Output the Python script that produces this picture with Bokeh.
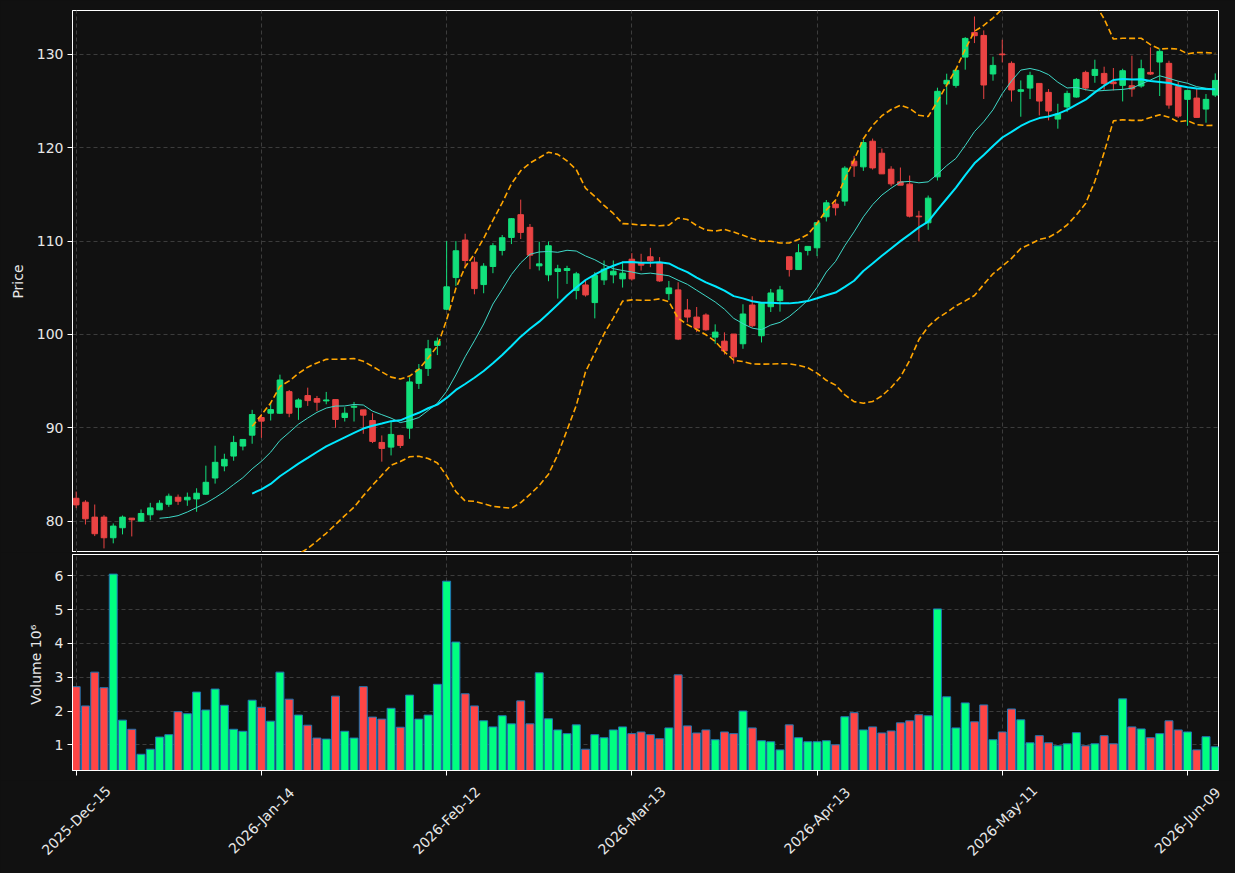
import numpy as np
import pandas as pd
from bokeh.plotting import figure
from bokeh.layouts import column
from bokeh.models import FixedTicker, ColumnDataSource, Range1d
from bokeh.core.properties import value
from bokeh.embed import file_html
from bokeh.resources import INLINE

# ---------------- data ----------------
opens = [82.45, 82.03, 80.43, 80.43, 78.22, 79.29, 80.32, 80.00, 80.68, 81.21,
         81.81, 82.56, 82.28, 82.38, 82.88, 84.62, 85.91, 86.97, 88.04, 89.21,
         91.10, 91.56, 91.56, 93.87, 92.20, 93.45, 93.13, 92.88, 93.02, 91.10,
         92.20, 91.92, 90.78, 88.43, 87.93, 89.18, 89.96, 94.76, 96.36, 98.82,
         102.70, 106.09, 110.11, 107.74, 105.34, 107.28, 109.00, 110.39, 112.83, 111.47,
         107.35, 106.38, 106.74, 106.85, 104.70, 105.30, 103.41, 105.84, 106.38, 105.95,
         108.06, 107.63, 108.32, 107.71, 104.37, 104.77, 102.62, 101.86, 102.08, 99.71,
         99.28, 100.04, 99.00, 103.15, 99.86, 102.97, 103.62, 108.32, 106.95, 109.00,
         109.28, 112.60, 113.96, 114.28, 118.56, 117.95, 120.70, 119.41, 117.70, 116.35,
         116.10, 112.67, 111.96, 116.88, 126.83, 126.68, 129.71, 132.35, 132.03, 127.90,
         130.04, 129.04, 126.04, 126.39, 126.89, 125.93, 123.07, 124.36, 125.43, 128.07,
         127.75, 127.96, 127.04, 126.68, 126.64, 126.61, 128.07, 129.18, 129.04, 126.57,
         125.18, 125.32, 124.14, 125.64]
highs = [83.17, 82.24, 81.78, 80.64, 79.75, 80.60, 80.32, 81.25, 81.96, 82.24,
         82.95, 82.85, 83.06, 83.52, 85.94, 88.08, 87.22, 89.14, 88.75, 91.92,
         91.49, 92.74, 95.69, 94.05, 93.16, 94.30, 93.41, 93.84, 93.02, 92.20,
         92.77, 91.92, 91.56, 89.18, 90.78, 89.25, 95.40, 96.83, 99.42, 99.67,
         110.00, 110.00, 110.79, 108.28, 107.63, 109.78, 110.65, 112.47, 114.44, 111.83,
         109.93, 109.96, 107.46, 107.35, 106.70, 105.84, 106.67, 107.92, 107.92, 107.81,
         108.71, 108.64, 109.28, 108.28, 105.73, 105.59, 103.80, 102.94, 102.26, 101.08,
         100.22, 100.04, 103.23, 104.09, 103.33, 104.87, 105.20, 108.32, 109.68, 109.43,
         112.04, 114.40, 114.38, 118.02, 119.13, 120.87, 120.98, 119.91, 118.02, 117.88,
         117.02, 113.24, 114.88, 126.43, 127.93, 128.36, 131.85, 134.06, 132.57, 129.75,
         131.57, 129.25, 127.21, 128.14, 126.89, 126.29, 124.71, 126.11, 127.46, 128.25,
         129.43, 128.68, 128.54, 128.46, 129.86, 129.43, 130.75, 130.61, 129.32, 127.07,
         126.14, 126.32, 125.75, 127.96]
lows = [81.39, 79.64, 78.40, 77.08, 77.62, 78.58, 78.36, 79.93, 80.10, 81.17,
        81.53, 81.74, 81.64, 81.00, 82.81, 84.02, 85.34, 86.47, 87.58, 88.29,
        88.93, 90.78, 91.49, 91.13, 90.85, 92.34, 91.81, 92.52, 90.00, 90.67,
        90.67, 89.36, 88.36, 86.37, 87.04, 87.83, 88.82, 94.16, 95.55, 97.79,
        102.60, 105.20, 107.20, 104.30, 104.41, 106.56, 108.46, 109.68, 110.22, 106.99,
        106.85, 105.70, 103.84, 105.41, 103.76, 104.05, 101.72, 105.30, 105.48, 105.02,
        105.77, 106.85, 107.20, 105.63, 103.69, 99.39, 101.29, 100.25, 100.39, 99.00,
        97.85, 96.88, 98.46, 100.75, 99.14, 102.40, 102.44, 106.20, 106.95, 108.46,
        108.39, 112.10, 112.74, 113.78, 116.88, 117.52, 117.66, 117.20, 115.88, 115.99,
        112.53, 109.96, 111.21, 116.49, 124.62, 126.43, 128.36, 131.21, 125.22, 127.18,
        129.14, 124.94, 123.32, 125.21, 123.46, 122.93, 122.04, 123.82, 125.36, 126.14,
        126.96, 126.21, 126.14, 124.96, 125.46, 126.43, 127.79, 125.54, 124.18, 123.18,
        122.36, 123.25, 122.68, 125.43]
closes = [81.74, 80.25, 78.65, 78.22, 79.47, 80.43, 80.14, 80.82, 81.42, 81.92,
          82.67, 82.13, 82.56, 82.99, 84.16, 86.30, 86.62, 88.43, 88.75, 91.42,
          90.71, 91.95, 95.12, 91.56, 92.98, 92.91, 92.74, 92.98, 90.89, 91.56,
          92.31, 91.35, 88.54, 87.79, 89.29, 88.11, 94.91, 96.22, 98.46, 99.28,
          105.10, 108.96, 107.92, 104.91, 107.31, 109.50, 110.36, 112.40, 110.93, 108.49,
          107.56, 109.50, 107.03, 107.06, 106.49, 104.23, 106.31, 106.99, 106.77, 106.56,
          105.95, 107.42, 107.89, 105.73, 104.98, 99.50, 101.86, 100.68, 100.50, 100.25,
          98.24, 97.60, 102.19, 100.93, 103.33, 104.44, 104.77, 106.95, 108.75, 109.43,
          111.97, 114.10, 113.57, 117.81, 118.06, 120.55, 117.84, 117.20, 116.13, 115.99,
          112.67, 112.60, 114.60, 126.04, 127.22, 128.29, 131.71, 132.00, 126.72, 128.82,
          129.96, 126.19, 126.21, 127.75, 125.00, 123.93, 123.61, 125.82, 127.32, 126.39,
          128.39, 126.89, 126.86, 128.25, 126.29, 128.46, 127.89, 130.32, 124.57, 123.39,
          126.14, 123.25, 125.18, 127.21]
volumes = [2.72, 2.15, 3.15, 2.69, 6.05, 1.73, 1.46, 0.72, 0.87, 1.23,
           1.30, 1.98, 1.92, 2.56, 2.03, 2.65, 2.17, 1.46, 1.40, 2.32,
           2.11, 1.70, 3.15, 2.35, 1.88, 1.58, 1.20, 1.17, 2.44, 1.40,
           1.20, 2.72, 1.82, 1.76, 2.08, 1.52, 2.47, 1.76, 1.88, 2.79,
           5.84, 4.04, 2.51, 2.15, 1.71, 1.53, 1.86, 1.62, 2.30, 1.62,
           3.13, 1.77, 1.44, 1.33, 1.59, 0.87, 1.30, 1.21, 1.44, 1.53,
           1.33, 1.38, 1.30, 1.18, 1.50, 3.07, 1.56, 1.35, 1.44, 1.15,
           1.38, 1.33, 2.00, 1.50, 1.12, 1.09, 0.85, 1.59, 1.21, 1.09,
           1.09, 1.12, 1.00, 1.83, 1.95, 1.44, 1.53, 1.35, 1.41, 1.65,
           1.71, 1.89, 1.86, 5.02, 2.42, 1.50, 2.24, 1.68, 2.18, 1.15,
           1.38, 2.06, 1.74, 1.06, 1.27, 1.06, 0.97, 1.03, 1.36, 0.97,
           1.03, 1.27, 1.03, 2.36, 1.53, 1.47, 1.21, 1.33, 1.71, 1.44,
           1.38, 0.85, 1.24, 0.94]
tick_positions = [0, 20, 40, 60, 80, 100, 120]
tick_labels = ["2025-Dec-15", "2026-Jan-14", "2026-Feb-12", "2026-Mar-13",
               "2026-Apr-13", "2026-May-11", "2026-Jun-09"]
price_ticks = [80, 90, 100, 110, 120, 130]
volume_ticks = [1, 2, 3, 4, 5, 6]

# ---------------- derived ----------------
n = len(closes)
idx = np.arange(n)
o = np.array(opens); h = np.array(highs); l = np.array(lows); c = np.array(closes)
up = c >= o
close_s = pd.Series(c)
ma10 = close_s.rolling(10).mean()
ma20 = close_s.rolling(20).mean()
sd20 = close_s.rolling(20).std()
bb_up = ma20 + 2 * sd20
bb_lo = ma20 - 2 * sd20

BG = "#111111"
GREEN_C = "#12e07c"
RED_C = "#ea4343"
GREEN_V = "#00ff80"
RED_V = "#ff4545"
TXT = "#e8e8e8"
GRID = "#3c3c3c"
FONT = "DejaVu Sans"

W = 1235
LEFT, RIGHT = 72, 17
X0, X1 = -0.4, 123.35

src = ColumnDataSource(dict(
    x=idx, o=o, h=h, l=l, c=c,
    top=np.maximum(o, c), bot=np.minimum(o, c),
    ccol=[GREEN_C if u else RED_C for u in up],
    vcol=[GREEN_V if u else RED_V for u in up],
    vol=np.array(volumes),
))

def style(p):
    p.background_fill_color = BG
    p.border_fill_color = BG
    p.outline_line_color = "white"
    p.outline_line_width = 1
    for g in p.grid:
        g.grid_line_color = GRID
        g.grid_line_dash = "4 3"
        g.grid_line_width = 1
    for ax in p.yaxis:
        ax.axis_line_color = "white"
        ax.major_tick_line_color = "white"
        ax.minor_tick_line_color = None
        ax.major_tick_out = 5
        ax.major_tick_in = 0
        ax.major_label_standoff = 4
        ax.major_label_text_color = TXT
        ax.major_label_text_font = FONT
        ax.major_label_text_font_size = "14px"
        ax.axis_label_text_color = TXT
        ax.axis_label_text_font = FONT
        ax.axis_label_text_font_size = "14px"
        ax.axis_label_text_font_style = "normal"
        ax.axis_label_standoff = 8

# ---------------- price panel ----------------
p1 = figure(width=W, height=552, x_range=Range1d(X0, X1), y_range=(76.64, 134.70),
            output_backend="svg", toolbar_location=None, x_axis_location=None,
            min_border_left=LEFT, min_border_right=RIGHT, min_border_top=10, min_border_bottom=0)
style(p1)
p1.yaxis.ticker = FixedTicker(ticks=price_ticks)
p1.yaxis.axis_label = "Price"
p1.xgrid.ticker = FixedTicker(ticks=tick_positions)

p1.segment(x0="x", y0="l", x1="x", y1="h", source=src, line_color="ccol", line_width=1)
p1.vbar(x="x", top="top", bottom="bot", width=0.6, source=src,
        fill_color="ccol", line_color="ccol", line_width=1)
p1.line(idx, ma10, line_color="#3fd9c8", line_width=1)
p1.line(idx, ma20, line_color="#00e8ff", line_width=2)
p1.line(idx, bb_up, line_color="#ffa500", line_width=1.6, line_dash="6 3")
p1.line(idx, bb_lo, line_color="#ffa500", line_width=1.6, line_dash="6 3")

# ---------------- volume panel ----------------
p2 = figure(width=W, height=228, x_range=p1.x_range, y_range=(0.24, 6.63),
            output_backend="svg", toolbar_location=None,
            min_border_left=LEFT, min_border_right=RIGHT, min_border_top=2, min_border_bottom=10)
style(p2)
p2.yaxis.ticker = FixedTicker(ticks=volume_ticks)
p2.yaxis.axis_label = "Volume  10\u2076"
p2.xaxis.ticker = FixedTicker(ticks=tick_positions)
p2.xgrid.ticker = FixedTicker(ticks=tick_positions)
p2.xaxis.major_label_overrides = {t: "" for t in tick_positions}
p2.xaxis.major_label_text_font_size = "0px"
p2.xaxis.major_label_standoff = 0
p2.xaxis.axis_line_color = "white"
p2.xaxis.major_tick_line_color = "white"
p2.xaxis.minor_tick_line_color = None
p2.xaxis.major_tick_out = 5
p2.xaxis.major_tick_in = 0

p2.vbar(x="x", top="vol", bottom=0, width=0.86, source=src,
        fill_color="vcol", line_color="#1f77b4", line_width=1)

# ---------------- date labels strip (full width, same x scale) ----------------
scale = (W - LEFT - RIGHT) / (X1 - X0)
p3 = figure(width=W, height=93, x_range=Range1d(X0 - LEFT / scale, X1 + RIGHT / scale),
            y_range=Range1d(93, 0), output_backend="svg", toolbar_location=None,
            x_axis_location=None, y_axis_location=None,
            min_border_left=0, min_border_right=0, min_border_top=0, min_border_bottom=0)
p3.frame_align = False
p3.background_fill_color = BG
p3.border_fill_color = BG
p3.outline_line_color = None
p3.grid.visible = False
p3.text(x=tick_positions, y=[40] * len(tick_positions), text=tick_labels,
        angle=np.pi / 4, text_align="center", text_baseline="middle",
        text_color=TXT, text_font=value(FONT), text_font_size="14px")

layout = column(p1, p2, p3, spacing=0, styles={"background-color": BG})
html = file_html(layout, INLINE, title="chart")
html = html.replace("<body>", '<body style="margin:0;background:#111111;">')
open("out.html", "w").write(html)
